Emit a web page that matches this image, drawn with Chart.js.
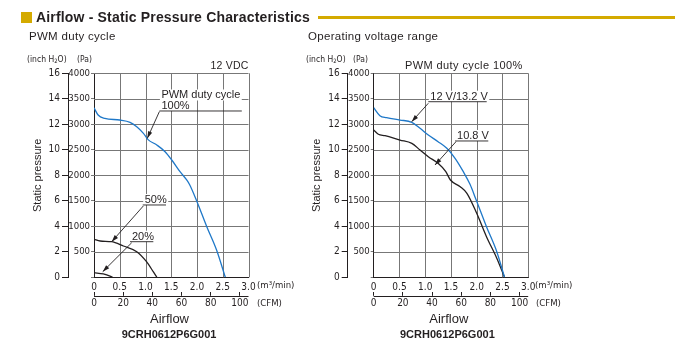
<!DOCTYPE html>
<html><head><meta charset="utf-8">
<script src="https://cdn.jsdelivr.net/npm/chart.js@4.4.0/dist/chart.umd.min.js"></script>
<style>
html,body{margin:0;padding:0;background:#fff;}
body{width:675px;height:346px;position:relative;overflow:hidden;font-family:"Liberation Sans",Arial,sans-serif;color:#231f20;}
.t{position:absolute;white-space:nowrap;line-height:1;}
.n{font-family:"Liberation Sans Narrow","DejaVu Sans Condensed","Arial Narrow",sans-serif;}
canvas{position:absolute;top:0;}
sub{font-size:70%;vertical-align:-1px;line-height:0;}
</style></head><body>
<canvas id="c1" width="300" height="346" style="left:0"></canvas>
<canvas id="c2" width="300" height="346" style="left:300px"></canvas>

<div style="position:absolute;left:21px;top:11.5px;width:11px;height:11px;background:#d4aa00"></div>
<div class="t" style="left:36px;top:9.9px;font-size:14px;font-weight:bold;letter-spacing:0.17px">Airflow - Static Pressure Characteristics</div>
<div style="position:absolute;left:318px;top:16px;width:357px;height:3px;background:#d4aa00"></div>

<div class="t" style="left:29px;top:31px;font-size:11.5px;letter-spacing:0.3px">PWM duty cycle</div>
<div class="t" style="left:308px;top:31px;font-size:11.5px;letter-spacing:0.3px">Operating voltage range</div>

<div class="t n" style="left:27px;top:55px;font-size:8.5px">(inch H<sub>2</sub>O)</div>
<div class="t n" style="left:77px;top:55px;font-size:8.5px">(Pa)</div>
<div class="t n" style="left:306px;top:55px;font-size:8.5px">(inch H<sub>2</sub>O)</div>
<div class="t n" style="left:353px;top:55px;font-size:8.5px">(Pa)</div>

<div class="t" style="left:210.5px;top:60.1px;font-size:10.5px;letter-spacing:0.2px">12 VDC</div>
<div class="t" style="left:405px;top:60px;font-size:11px;letter-spacing:0.4px">PWM duty cycle 100%</div>

<div class="t n" style="left:257px;top:280px;font-size:9.5px">(m³/min)</div>
<div class="t n" style="left:257px;top:298px;font-size:9.5px">(CFM)</div>
<div class="t n" style="left:535px;top:280px;font-size:9.5px">(m³/min)</div>
<div class="t n" style="left:536px;top:298px;font-size:9.5px">(CFM)</div>

<div class="t" style="left:150px;top:311.7px;font-size:13px">Airflow</div>
<div class="t" style="left:429.3px;top:311.7px;font-size:13px">Airflow</div>
<div class="t" style="left:121.7px;top:329px;font-size:11px;font-weight:bold">9CRH0612P6G001</div>
<div class="t" style="left:400px;top:329px;font-size:11px;font-weight:bold">9CRH0612P6G001</div>

<script>
// ---- data (airflow in m³/min, static pressure in Pa) ----
const pwm100X = [0, 0.08, 0.21, 0.5, 0.7, 0.83, 0.96, 1.05, 1.22, 1.38, 1.51, 1.67, 1.8, 1.86, 2.0, 2.19, 2.38, 2.55];
const pwm100Y = [3325, 3182, 3117, 3084, 3039, 2953, 2823, 2700, 2594, 2463, 2300, 2071, 1908, 1810, 1482, 992, 535, 0];
const pwm50X = [0, 0.12, 0.34, 0.57, 0.83, 1.02, 1.15, 1.22];
const pwm50Y = [745, 712, 698, 614, 502, 306, 110, 0];
const pwm20X = [0, 0.18, 0.31, 0.36];
const pwm20Y = [90, 65, 25, 0];
const v12X = [0, 0.12, 0.25, 0.51, 0.74, 0.9, 1.06, 1.25, 1.42, 1.58, 1.74, 1.87, 1.99, 2.19, 2.39, 2.54];
const v12Y = [3325, 3169, 3130, 3084, 3039, 2921, 2790, 2659, 2529, 2333, 2071, 1823, 1516, 992, 502, 0];
const v108X = [0, 0.09, 0.22, 0.51, 0.74, 0.9, 1.06, 1.25, 1.40, 1.49, 1.68, 1.81, 2.0, 2.19, 2.39, 2.54];
const v108Y = [2888, 2804, 2777, 2692, 2627, 2496, 2365, 2235, 2071, 1908, 1776, 1647, 1255, 796, 373, 0];

const airflowMax = 3.0, airflowStep = 0.5;
const paMax = 4000, paStep = 500;
const inchMax = 16, inchStep = 2;
const cfmPerM3 = 35.3147, cfmStep = 20;

// annotation callouts (in data units)
const NOTES = {
  c1: [
    {lines: ['PWM duty cycle', '100%'], ux0: 1.27, ux1: 2.87, uy: 3261, sx: 1.27, sy: 3250, tx: 1.035, ty: 2725},
    {lines: ['50%'], ux0: 0.946, ux1: 1.398, uy: 1418, sx: 0.957, sy: 1398, tx: 0.344, ty: 698},
    {lines: ['20%'], ux0: 0.699, ux1: 1.152, uy: 698, sx: 0.732, sy: 678, tx: 0.169, ty: 110}
  ],
  c2: [
    {lines: ['12 V/13.2 V'], ux0: 1.06, ux1: 2.194, uy: 3443, sx: 1.06, sy: 3412, tx: 0.738, ty: 3051},
    {lines: ['10.8 V'], ux0: 1.579, ux1: 2.225, uy: 2673, sx: 1.598, sy: 2659, tx: 1.19, ty: 2202}
  ]
};

const INK = '#231f20', GRID = '#777777', BLUE = '#1f78c8';
const NARROW = "'Liberation Sans Narrow','DejaVu Sans Condensed','Arial Narrow',sans-serif";

// grid through the chart's own scales (drawn under the curves)
const gridPlugin = {
  id: 'gridlines',
  beforeDatasetsDraw(chart) {
    const ctx = chart.ctx, ca = chart.chartArea, xs = chart.scales.x, ys = chart.scales.y;
    ctx.save();
    ctx.strokeStyle = GRID; ctx.lineWidth = 1;
    ctx.beginPath();
    xs.ticks.forEach(t => { if (t.value === 0) return; const p = Math.round(xs.getPixelForValue(t.value)) + 0.5; ctx.moveTo(p, ca.top); ctx.lineTo(p, ca.bottom); });
    ys.ticks.forEach(t => { if (t.value === 0) return; const p = Math.round(ys.getPixelForValue(t.value)) + 0.5; ctx.moveTo(ca.left, p); ctx.lineTo(ca.right, p); });
    ctx.stroke();
    ctx.restore();
  }
};

const notesPlugin = {
  id: 'notes',
  afterDatasetsDraw(chart) {
    const ctx = chart.ctx, xs = chart.scales.x, ys = chart.scales.y, x2 = chart.scales.x2;
    const ca = chart.chartArea;
    ctx.save();
    ctx.strokeStyle = INK; ctx.lineWidth = 1;
    const ly = Math.round(x2.top + 4) + 0.5;
    ctx.beginPath(); ctx.moveTo(ca.left, ly); ctx.lineTo(ca.right, ly); ctx.stroke();
    const px = v => xs.getPixelForValue(v), py = v => ys.getPixelForValue(v);
    ctx.font = '11px "Liberation Sans", Arial, sans-serif';
    (NOTES[chart.canvas.id] || []).forEach(n => {
      const x0 = px(n.ux0), x1 = px(n.ux1), uy = py(n.uy);
      const nl = n.lines.length;
      n.lines.forEach((s, i) => {
        const bl = uy - 2 - (nl - 1 - i) * 10.5;
        const w = ctx.measureText(s).width;
        ctx.fillStyle = '#fff';
        ctx.fillRect(x0 + 0.5, bl - 9, w + 3, 11);
      });
      ctx.fillStyle = INK;
      n.lines.forEach((s, i) => {
        const bl = uy - 2 - (nl - 1 - i) * 10.5;
        ctx.fillText(s, x0 + 2, bl);
      });
      ctx.lineWidth = 0.9;
      ctx.beginPath(); ctx.moveTo(x0, uy); ctx.lineTo(x1, uy); ctx.stroke();
      const sx = px(n.sx), sy = py(n.sy), tx = px(n.tx), ty = py(n.ty);
      ctx.beginPath(); ctx.moveTo(sx, sy); ctx.lineTo(tx, ty); ctx.stroke();
      const a = Math.atan2(ty - sy, tx - sx), L = 7, H = 2.2;
      const bx = tx - L * Math.cos(a), by = ty - L * Math.sin(a);
      ctx.beginPath();
      ctx.moveTo(tx, ty);
      ctx.lineTo(bx + H * Math.sin(a), by - H * Math.cos(a));
      ctx.lineTo(bx - H * Math.sin(a), by + H * Math.cos(a));
      ctx.closePath(); ctx.fill();
    });
    ctx.restore();
  }
};

function series(xs, ys, color) {
  return {
    data: xs.map((x, i) => ({x: x, y: ys[i]})),
    borderColor: color, borderWidth: 1.3, pointRadius: 0,
    cubicInterpolationMode: 'monotone', fill: false
  };
}

function makeChart(id, datasets, y2Width, titlePad, padRight) {
  return new Chart(document.getElementById(id), {
    type: 'line',
    data: {datasets: datasets},
    plugins: [gridPlugin, notesPlugin],
    options: {
      responsive: false, animation: false, devicePixelRatio: 1,
      layout: {padding: {left: 0, right: padRight, top: 73.3, bottom: 34.2}},
      plugins: {legend: {display: false}, tooltip: {enabled: false}},
      scales: {
        x: {
          type: 'linear', position: 'bottom', weight: 0, min: 0, max: airflowMax,
          ticks: {stepSize: airflowStep, padding: 4, color: INK, font: {family: NARROW, size: 10},
            callback: v => v === 0 ? '0' : v.toFixed(1)},
          grid: {drawOnChartArea: false, drawTicks: false},
          border: {color: INK, width: 1},
          afterFit: s => { s.height = 14.5; }
        },
        x2: {
          type: 'linear', position: 'bottom', weight: 1, min: 0, max: airflowMax * cfmPerM3,
          ticks: {stepSize: cfmStep, includeBounds: false, padding: 2, color: INK, font: {family: NARROW, size: 10}},
          grid: {drawOnChartArea: false, drawTicks: true, tickLength: 4, color: INK, lineWidth: 1},
          border: {display: false},
          afterFit: s => { s.height = 20; }
        },
        y: {
          type: 'linear', position: 'left', weight: 0, min: 0, max: paMax,
          ticks: {stepSize: paStep, padding: 1, color: INK, font: {family: NARROW, size: 9.5},
            callback: v => v === 0 ? '' : String(v)},
          grid: {drawOnChartArea: false, color: GRID, lineWidth: 1, tickLength: 3},
          border: {color: INK, width: 1},
          afterFit: s => { s.width = 26; }
        },
        y2: {
          type: 'linear', position: 'left', weight: 1, min: 0, max: inchMax,
          ticks: {stepSize: inchStep, padding: 2, color: INK, font: {family: NARROW, size: 10}},
          grid: {drawOnChartArea: false, drawTicks: true, tickLength: 6, color: INK, lineWidth: 1},
          border: {display: true, color: INK, width: 1},
          title: {display: true, text: 'Static pressure', color: INK,
            font: {family: "'Liberation Sans', Arial, sans-serif", size: 11}, padding: {top: titlePad, bottom: 0}},
          afterFit: s => { s.width = y2Width; }
        }
      }
    }
  });
}

makeChart('c1', [
  series(pwm100X, pwm100Y, BLUE),
  series(pwm50X, pwm50Y, INK),
  series(pwm20X, pwm20Y, INK)
], 68, 31.4, 51.5);

makeChart('c2', [
  series(v12X, v12Y, BLUE),
  series(v108X, v108Y, INK)
], 47.7, 10.1, 71.8);
</script>
</body></html>
